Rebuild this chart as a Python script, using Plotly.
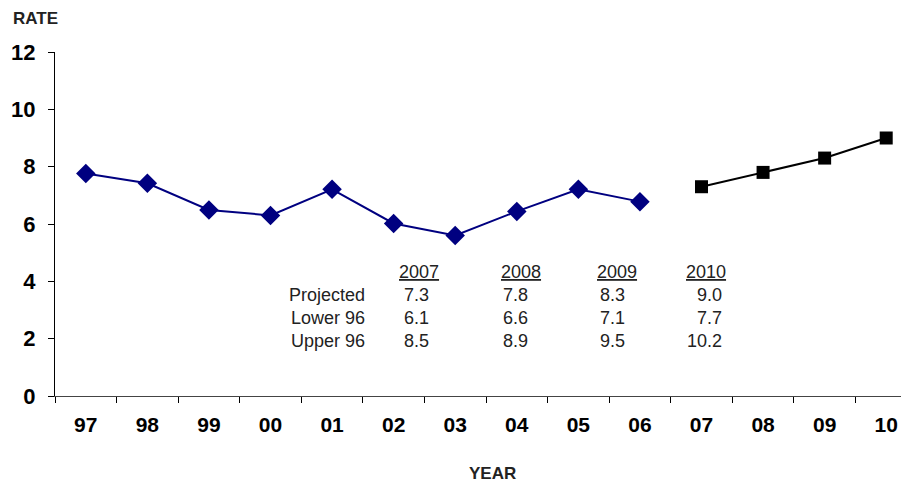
import plotly.graph_objects as go

# データ
years = ["97", "98", "99", "00", "01", "02", "03", "04", "05", "06", "07", "08", "09", "10"]
actual_rate = [7.76, 7.42, 6.49, 6.30, 7.21, 6.02, 5.60, 6.44, 7.21, 6.78]
projected_rate = [7.3, 7.8, 8.3, 9.0]

table_years = ["2007", "2008", "2009", "2010"]
table_rows = ["Projected", "Lower 96", "Upper 96"]
table_projected = ["7.3", "7.8", "8.3", "9.0"]
table_lower = ["6.1", "6.6", "7.1", "7.7"]
table_upper = ["8.5", "8.9", "9.5", "10.2"]

W, H = 909, 487
L, R, T, B = 47, 0, 44, 99
OFF = 8  # ページ余白
FONT = "Liberation Sans, Arial, sans-serif"

def px(x):
    return (x - OFF - L) / (W - L - R)

def py(y):
    return 1 - (y - OFF - T) / (H - T - B)

fig = go.Figure()

# 実績
fig.add_trace(go.Scatter(x=years[:len(actual_rate)], y=actual_rate, mode='lines+markers',
                         line=dict(color='#000080', width=2),
                         marker=dict(symbol='diamond', size=15, color='#000080'), showlegend=False))
# 予測
fig.add_trace(go.Scatter(x=years[len(actual_rate):], y=projected_rate, mode='lines+markers',
                         line=dict(color='black', width=2),
                         marker=dict(symbol='square', size=13, color='black'), showlegend=False))

# 表
tfont = dict(family=FONT, size=18, color='#222')
col_right = [441, 543, 639, 728]
val_right = [431, 530, 627, 724]
row_y = [295, 318, 341]
for yr, xr in zip(table_years, col_right):
    fig.add_annotation(xref='paper', yref='paper', x=px(xr), y=py(272), text=f"<u>{yr}</u>",
                       showarrow=False, xanchor='right', yanchor='middle', font=tfont)
for label, ry, vals in zip(table_rows, row_y, [table_projected, table_lower, table_upper]):
    fig.add_annotation(xref='paper', yref='paper', x=px(367), y=py(ry), text=label,
                       showarrow=False, xanchor='right', yanchor='middle', font=tfont)
    for v, xr in zip(vals, val_right):
        fig.add_annotation(xref='paper', yref='paper', x=px(xr), y=py(ry), text=v,
                           showarrow=False, xanchor='right', yanchor='middle', font=tfont)

# 軸タイトル
fig.add_annotation(xref='paper', yref='paper', x=px(11), y=py(18), text="<b>RATE</b>", showarrow=False,
                   xanchor='left', yanchor='middle', font=dict(family=FONT, size=17, color='#222'))
fig.add_annotation(xref='paper', yref='paper', x=px(492), y=py(473), text="<b>YEAR</b>", showarrow=False,
                   xanchor='center', yanchor='middle', font=dict(family=FONT, size=17, color='#222'))

fig.update_layout(
    width=W, height=H, margin=dict(l=L, r=R, t=T, b=B),
    plot_bgcolor='white', paper_bgcolor='white',
    xaxis=dict(type='category', categoryorder='array', categoryarray=years, range=[-0.5, 13.5],
               tickson='boundaries', ticks='outside', ticklen=6, tickcolor='black',
               showline=True, linecolor='#444', linewidth=1, showgrid=False, zeroline=False,
               tickfont=dict(family=FONT, size=21, color='black'), ticklabelstandoff=10,
               tickprefix='<b>', ticksuffix='</b>'),
    yaxis=dict(range=[0, 12], dtick=2, ticks='outside', ticklen=6, tickcolor='black',
               showline=True, linecolor='black', linewidth=1, showgrid=False, zeroline=False,
               tickfont=dict(family=FONT, size=22, color='black'), ticklabelstandoff=8,
               tickprefix='<b>', ticksuffix='</b>'),
)

fig.write_html("out.html")
